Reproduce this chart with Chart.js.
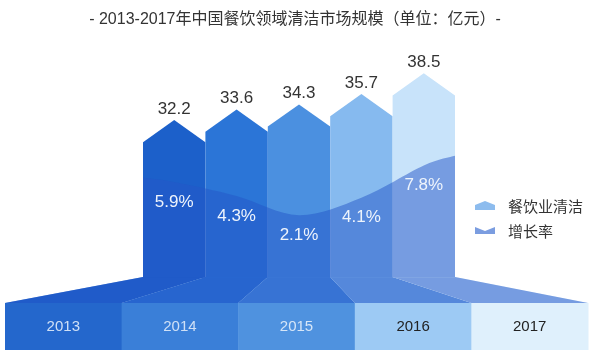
<!DOCTYPE html>
<html>
<head>
<meta charset="utf-8">
<script src="https://cdn.jsdelivr.net/npm/chart.js@4.4.0/dist/chart.umd.min.js"></script>
<style>
  html, body { margin: 0; padding: 0; background: #fff; }
  #wrap { width: 600px; height: 364px; }
</style>
</head>
<body>
<div id="wrap"><canvas id="c" width="600" height="364"></canvas></div>
<script>
// data
var years = ['2013', '2014', '2015', '2016', '2017'];
var marketSize = [32.2, 33.6, 34.3, 35.7, 38.5];   // 亿元
var growthRate = [5.9, 4.3, 2.1, 4.1, 7.8];        // %
var titleText = '- 2013-2017年中国餐饮领域清洁市场规模（单位：亿元）-';

var FONT = "'Liberation Sans', 'Noto Sans CJK SC', sans-serif";

var barColors  = ['#1c60ca', '#2b75d7', '#4b90e0', '#86baef', '#c8e3fa'];
var bandColors = ['#2467cc', '#3a7fd8', '#4f92df', '#9dcaf4', '#dff0fc'];
var bandText   = ['#cfe0f6', '#cfe0f6', '#d6e6f8', '#222222', '#222222'];
var waveColor  = 'rgba(35,85,200,0.5)';

function pentagon(ctx, x, peak, w, base) {
    var l = x - w / 2, r = x + w / 2, sh = peak + w * 0.355;
    ctx.moveTo(l, base);
    ctx.lineTo(l, sh);
    ctx.lineTo(x, peak);
    ctx.lineTo(r, sh);
    ctx.lineTo(r, base);
    ctx.closePath();
}

var pedestal = {
    id: 'pedestal',
    afterDatasetsDraw: function(chart) {
        var ctx = chart.ctx, area = chart.chartArea;
        var bars = chart.getDatasetMeta(0).data;
        var pts = chart.getDatasetMeta(1).data;
        var base = area.bottom;
        var bandTop = base + 26, bandBottom = base + 73;
        var bandLeft = 5, bandRight = 588;
        var k = (bandRight - bandLeft) / (area.right - area.left);
        function bx(x) { return bandLeft + (x - area.left) * k; }

        ctx.save();
        /* ---- title ---- */
        ctx.textAlign = 'center';
        ctx.textBaseline = 'middle';
        ctx.fillStyle = '#333333';
        ctx.font = '16px ' + FONT;
        ctx.fillText(titleText, 295, 20);

        /* ---- base band + trapezoids ---- */
        bars.forEach(function(b, i) {
            var l = b.x - b.width / 2, r = b.x + b.width / 2;
            ctx.beginPath();
            ctx.moveTo(l, base); ctx.lineTo(r, base);
            ctx.lineTo(bx(r), bandTop); ctx.lineTo(bx(l), bandTop);
            ctx.closePath();
            ctx.fillStyle = barColors[i]; ctx.fill();
            ctx.fillStyle = waveColor; ctx.fill();

            ctx.fillStyle = bandColors[i];
            ctx.fillRect(bx(l), bandTop, bx(r) - bx(l) + 0.5, bandBottom - bandTop);
        });

        /* ---- pentagon bars ---- */
        bars.forEach(function(b, i) {
            ctx.beginPath();
            pentagon(ctx, b.x, b.y, b.width, base + 0.5);
            ctx.fillStyle = barColors[i];
            ctx.fill();
        });

        /* ---- growth wave, clipped to bars ---- */
        var p = pts.map(function(q) { return { x: q.x, y: q.y }; });
        var n = p.length;
        var first = { x: area.left, y: p[0].y - (p[1].y - p[0].y) * 0.3 };
        var last = { x: area.right, y: p[n - 1].y - (p[n - 2].y - p[n - 1].y) * 0.3 };
        var all = [first].concat(p, [last]);

        ctx.save();
        ctx.beginPath();
        bars.forEach(function(b) { pentagon(ctx, b.x, b.y, b.width, base + 0.5); });
        ctx.clip();
        ctx.beginPath();
        ctx.moveTo(all[0].x, all[0].y);
        for (var i = 0; i < all.length - 1; i++) {
            var p0 = all[Math.max(i - 1, 0)], p1 = all[i], p2 = all[i + 1], p3 = all[Math.min(i + 2, all.length - 1)];
            ctx.bezierCurveTo(p1.x + (p2.x - p0.x) / 6, p1.y + (p2.y - p0.y) / 6,
                              p2.x - (p3.x - p1.x) / 6, p2.y - (p3.y - p1.y) / 6,
                              p2.x, p2.y);
        }
        ctx.lineTo(area.right, base + 1);
        ctx.lineTo(area.left, base + 1);
        ctx.closePath();
        ctx.fillStyle = waveColor;
        ctx.fill();
        ctx.restore();

        /* ---- texts ---- */
        ctx.textAlign = 'center';
        ctx.textBaseline = 'middle';
        ctx.font = '17px ' + FONT;
        bars.forEach(function(b, i) {
            ctx.fillStyle = '#333333';
            ctx.fillText(marketSize[i].toFixed(1), b.x, b.y - 11);
        });
        pts.forEach(function(q, i) {
            ctx.fillStyle = '#eef4fc';
            ctx.fillText(growthRate[i].toFixed(1) + '%', q.x, q.y + 20);
        });
        ctx.font = '15px ' + FONT;
        bars.forEach(function(b, i) {
            var l = bx(b.x - b.width / 2), r = bx(b.x + b.width / 2);
            ctx.fillStyle = bandText[i];
            ctx.fillText(years[i], (l + r) / 2, (bandTop + bandBottom) / 2);
        });

        /* ---- legend ---- */
        var lx = area.right + 20;
        ctx.fillStyle = '#8dbcee';
        ctx.beginPath();
        ctx.moveTo(lx, 210); ctx.lineTo(lx, 205); ctx.lineTo(lx + 10, 201);
        ctx.lineTo(lx + 20, 205); ctx.lineTo(lx + 20, 210); ctx.closePath();
        ctx.fill();
        ctx.fillStyle = '#7b9de0';
        ctx.beginPath();
        ctx.moveTo(lx, 227); ctx.lineTo(lx + 10, 231); ctx.lineTo(lx + 20, 227);
        ctx.lineTo(lx + 20, 234); ctx.lineTo(lx, 234); ctx.closePath();
        ctx.fill();
        ctx.textAlign = 'left';
        ctx.fillStyle = '#333333';
        ctx.font = '15px ' + FONT;
        ctx.fillText(chart.data.datasets[0].label, lx + 33, 208);
        ctx.fillText(chart.data.datasets[1].label, lx + 33, 233);
        ctx.restore();
    }
};

new Chart(document.getElementById('c'), {
    type: 'bar',
    data: {
        labels: years,
        datasets: [
            {
                label: '餐饮业清洁',
                data: marketSize,
                yAxisID: 'y',
                backgroundColor: 'rgba(0,0,0,0)',
                categoryPercentage: 1,
                barPercentage: 1
            },
            {
                type: 'line',
                label: '增长率',
                data: growthRate,
                yAxisID: 'y2',
                showLine: false,
                pointRadius: 0
            }
        ]
    },
    options: {
        responsive: false,
        animation: false,
        layout: { padding: { left: 143, right: 145, top: 40, bottom: 87 } },
        plugins: {
            legend: { display: false },
            tooltip: { enabled: false },
            title: { display: false }
        },
        scales: {
            x: { display: false },
            y: { display: false, min: 11, max: 43 },
            y2: { display: false, min: -5, max: 22.2 }
        }
    },
    plugins: [pedestal]
});
</script>
</body>
</html>
